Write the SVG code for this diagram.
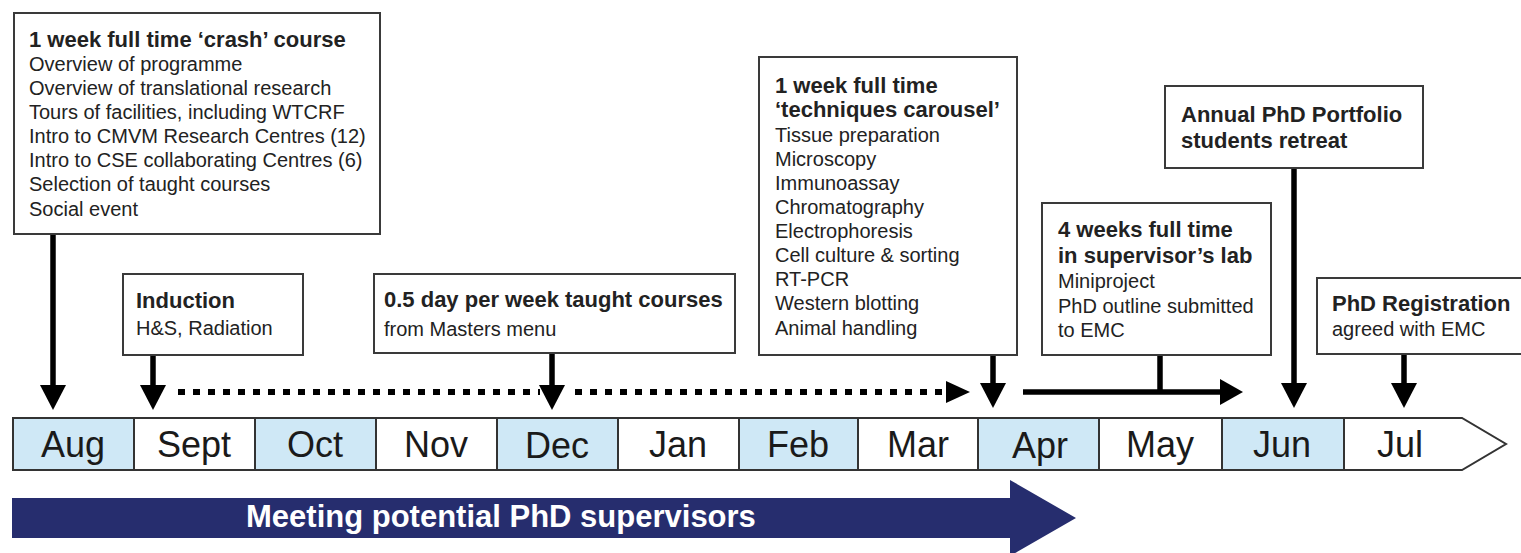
<svg xmlns="http://www.w3.org/2000/svg" width="1521" height="553" viewBox="0 0 1521 553">
<defs>
<style>
.box{fill:#fff;stroke:#3a3a3a;stroke-width:2}
.t{font-family:"Liberation Sans",Arial,sans-serif;fill:#222}
.b{font-weight:bold;font-size:22px}
.r{font-size:20px}
.m{font-family:"Liberation Sans",Arial,sans-serif;font-size:36px;fill:#1a1a1a;text-anchor:middle}
.cell{stroke:#333;stroke-width:2}
.blue{fill:#cfe8f6}
.white{fill:#fff}
.ln{stroke:#000;stroke-width:5.5;fill:none}
.dot{stroke:#000;stroke-width:6;stroke-dasharray:7 8;fill:none}
.hd{fill:#000}
</style>
</defs>
<rect width="1521" height="553" fill="#fff"/>

<g id="timeline">
<rect class="cell blue" x="13" y="418" width="121" height="52"/>
<rect class="cell white" x="134" y="418" width="121" height="52"/>
<rect class="cell blue" x="255" y="418" width="121" height="52"/>
<rect class="cell white" x="376" y="418" width="121" height="52"/>
<rect class="cell blue" x="497" y="418" width="121" height="52"/>
<rect class="cell white" x="618" y="418" width="121" height="52"/>
<rect class="cell blue" x="739" y="418" width="119" height="52"/>
<rect class="cell white" x="858" y="418" width="120" height="52"/>
<rect class="cell blue" x="978" y="418" width="121" height="52"/>
<rect class="cell white" x="1099" y="418" width="123" height="52"/>
<rect class="cell blue" x="1222" y="418" width="122" height="52"/>
<polygon class="cell white" points="1344,418 1462,418 1506,444 1462,470 1344,470"/>
<text class="m" x="73" y="457">Aug</text>
<text class="m" x="194" y="457">Sept</text>
<text class="m" x="315" y="457">Oct</text>
<text class="m" x="436" y="457">Nov</text>
<text class="m" x="557" y="458">Dec</text>
<text class="m" x="678" y="457">Jan</text>
<text class="m" x="798" y="457">Feb</text>
<text class="m" x="918" y="457">Mar</text>
<text class="m" x="1040" y="458">Apr</text>
<text class="m" x="1160" y="457">May</text>
<text class="m" x="1282" y="457">Jun</text>
<text class="m" x="1400" y="457">Jul</text>
</g>

<g id="supervisors">
<polygon points="12,498 1010,498 1010,480 1076,518 1010,556 1010,538 12,538" fill="#262d6e"/>
<text x="246" y="527" font-family="Liberation Sans,Arial,sans-serif" font-weight="bold" font-size="31px" fill="#fff">Meeting potential PhD supervisors</text>
</g>

<g id="connectors">
<line class="ln" x1="53" y1="234" x2="53" y2="388"/>
<polygon class="hd" points="40,385 66,385 53,410"/>
<line class="ln" x1="153" y1="355" x2="153" y2="388"/>
<polygon class="hd" points="140,385 166,385 153,410"/>
<line class="dot" x1="178" y1="392" x2="540" y2="392"/>
<line class="ln" x1="552" y1="353" x2="552" y2="388"/>
<polygon class="hd" points="539,385 565,385 552,410"/>
<line class="dot" x1="575" y1="392" x2="945" y2="392"/>
<polygon class="hd" points="946,381 946,403 970,392"/>
<line class="ln" x1="993" y1="355" x2="993" y2="386"/>
<polygon class="hd" points="980,383 1006,383 993,408"/>
<line class="ln" x1="1160" y1="355" x2="1160" y2="392"/>
<line class="ln" x1="1023" y1="392" x2="1222" y2="392"/>
<polygon class="hd" points="1220,379 1220,405 1243,392"/>
<line class="ln" x1="1294" y1="168" x2="1294" y2="386"/>
<polygon class="hd" points="1281,383 1307,383 1294,408"/>
<line class="ln" x1="1404" y1="355" x2="1404" y2="386"/>
<polygon class="hd" points="1391,383 1417,383 1404,408"/>
</g>

<g id="crash">
<rect class="box" x="14" y="13" width="366" height="221"/>
<text class="t b" x="29" y="47">1 week full time ‘crash’ course</text>
<text class="t r" x="29" y="71">Overview of programme</text>
<text class="t r" x="29" y="95">Overview of translational research</text>
<text class="t r" x="29" y="119">Tours of facilities, including WTCRF</text>
<text class="t r" x="29" y="143">Intro to CMVM Research Centres (12)</text>
<text class="t r" x="29" y="167">Intro to CSE collaborating Centres (6)</text>
<text class="t r" x="29" y="191">Selection of taught courses</text>
<text class="t r" x="29" y="216">Social event</text>
</g>

<g id="induction">
<rect class="box" x="123" y="274" width="180" height="81"/>
<text class="t b" x="136" y="308">Induction</text>
<text class="t r" x="136" y="335">H&amp;S, Radiation</text>
</g>

<g id="taught">
<rect class="box" x="374" y="274" width="361" height="79"/>
<text class="t b" x="384" y="307">0.5 day per week taught courses</text>
<text class="t r" x="384" y="336">from Masters menu</text>
</g>

<g id="techniques">
<rect class="box" x="759" y="57" width="258" height="298"/>
<text class="t b" x="775" y="93">1 week full time</text>
<text class="t b" x="775" y="117">‘techniques carousel’</text>
<text class="t r" x="775" y="142">Tissue preparation</text>
<text class="t r" x="775" y="166">Microscopy</text>
<text class="t r" x="775" y="190">Immunoassay</text>
<text class="t r" x="775" y="214">Chromatography</text>
<text class="t r" x="775" y="238">Electrophoresis</text>
<text class="t r" x="775" y="262">Cell culture &amp; sorting</text>
<text class="t r" x="775" y="286">RT-PCR</text>
<text class="t r" x="775" y="310">Western blotting</text>
<text class="t r" x="775" y="335">Animal handling</text>
</g>

<g id="supervisorlab">
<rect class="box" x="1042" y="203" width="229" height="152"/>
<text class="t b" x="1058" y="237">4 weeks full time</text>
<text class="t b" x="1058" y="263">in supervisor’s lab</text>
<text class="t r" x="1058" y="288">Miniproject</text>
<text class="t r" x="1058" y="313">PhD outline submitted</text>
<text class="t r" x="1058" y="337">to EMC</text>
</g>

<g id="retreat">
<rect class="box" x="1165" y="86" width="258" height="82"/>
<text class="t b" x="1181" y="122">Annual PhD Portfolio</text>
<text class="t b" x="1181" y="148">students retreat</text>
</g>

<g id="registration">
<rect class="box" x="1317" y="278" width="220" height="76"/>
<text class="t b" x="1332" y="311">PhD Registration</text>
<text class="t r" x="1332" y="336">agreed with EMC</text>
</g>
</svg>
